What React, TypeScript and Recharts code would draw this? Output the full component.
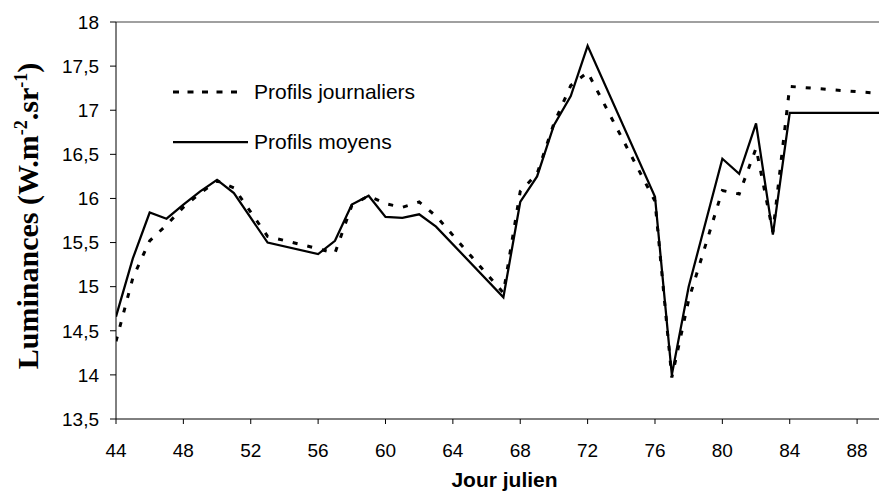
import { LineChart, Line, XAxis, YAxis, ReferenceLine } from 'recharts'

const days = [44, 45, 46, 47, 48, 49, 50, 51, 53, 56, 57, 58, 59, 60, 61, 62, 63, 67, 68, 69, 70, 71, 72, 76, 77, 78, 80, 81, 82, 83, 84, 90]
const journaliers = [14.38, 15.1, 15.52, 15.7, 15.9, 16.06, 16.2, 16.12, 15.57, 15.43, 15.38, 15.92, 16.03, 15.94, 15.9, 15.96, 15.8, 14.93, 16.08, 16.28, 16.85, 17.28, 17.43, 15.97, 13.97, 14.85, 16.09, 16.05, 16.57, 15.62, 17.27, 17.18]
const moyens = [14.66, 15.32, 15.84, 15.77, 15.93, 16.08, 16.21, 16.06, 15.5, 15.37, 15.52, 15.93, 16.03, 15.79, 15.78, 15.82, 15.68, 14.88, 15.96, 16.25, 16.83, 17.16, 17.73, 16.02, 14.0, 15.0, 16.45, 16.28, 16.85, 15.59, 16.97, 16.97]
const xTicks = [44, 48, 52, 56, 60, 64, 68, 72, 76, 80, 84, 88]
const yTicks = [13.5, 14, 14.5, 15, 15.5, 16, 16.5, 17, 17.5, 18]

const data = days.map((day, i) => ({ day, journaliers: journaliers[i], moyens: moyens[i] }))

const sans = '"Liberation Sans", Arial, sans-serif'
const serif = '"Liberation Serif", "Times New Roman", serif'

// rotated y title with superscripts
const YTitle = () => (
  <text
    x={38}
    y={216}
    transform="rotate(-90, 38, 216)"
    textAnchor="middle"
    fontFamily={serif}
    fontWeight="bold"
    fontSize={30}
    fill="#000"
  >
    Luminances (W.m
    <tspan dy={-11} fontSize={18}>-2</tspan>
    <tspan dy={11}>.sr</tspan>
    <tspan dy={-11} fontSize={18}>-1</tspan>
    <tspan dy={11}>)</tspan>
  </text>
)

const XTitle = (props: any) => {
  const vb = props.viewBox
  return (
    <text
      x={vb.x + vb.width / 2 + 7}
      y={487}
      textAnchor="middle"
      fontFamily={sans}
      fontWeight="bold"
      fontSize={21}
      fill="#000"
    >
      Jour julien
    </text>
  )
}

export default function App() {
  return (
    <div style={{ position: 'absolute', left: 0, top: 0, width: 879, height: 495, background: '#fff' }}>
      <LineChart width={879} height={495} data={data} margin={{ top: 22, right: 0, bottom: 0, left: 0 }}>
        <XAxis
          type="number"
          dataKey="day"
          domain={[44, 89.3]}
          allowDataOverflow
          ticks={xTicks}
          height={76}
          tickSize={5}
          tickMargin={20}
          stroke="#000"
          tick={{ fill: '#000', fontSize: 19, fontFamily: sans }}
          label={<XTitle />}
        />
        <YAxis
          type="number"
          domain={[13.5, 18]}
          ticks={yTicks}
          width={116}
          tickSize={6}
          tickMargin={11}
          stroke="#000"
          tick={{ fill: '#000', fontSize: 19, fontFamily: sans }}
          tickFormatter={(v: number) => String(v).replace('.', ',')}
          label={<YTitle />}
        />
        <ReferenceLine y={18} stroke="#808080" strokeWidth={1.5} />
        <Line
          type="linear"
          dataKey="journaliers"
          stroke="#000"
          strokeWidth={3}
          strokeDasharray="5 10"
          dot={false}
          isAnimationActive={false}
        />
        <Line
          type="linear"
          dataKey="moyens"
          stroke="#000"
          strokeWidth={2.25}
          dot={false}
          isAnimationActive={false}
        />
      </LineChart>
      <div style={{ position: 'absolute', left: 173, top: 80, fontFamily: sans, fontSize: 21, color: '#000' }}>
        <div style={{ display: 'flex', alignItems: 'center', height: 24 }}>
          <svg width={81} height={24}>
            <line x1={0} y1={12} x2={67} y2={12} stroke="#000" strokeWidth={3} strokeDasharray="6 8.5" />
          </svg>
          <span>Profils journaliers</span>
        </div>
        <div style={{ display: 'flex', alignItems: 'center', height: 24, marginTop: 26 }}>
          <svg width={81} height={24}>
            <line x1={0} y1={12} x2={75} y2={12} stroke="#000" strokeWidth={2.25} />
          </svg>
          <span>Profils moyens</span>
        </div>
      </div>
    </div>
  )
}
